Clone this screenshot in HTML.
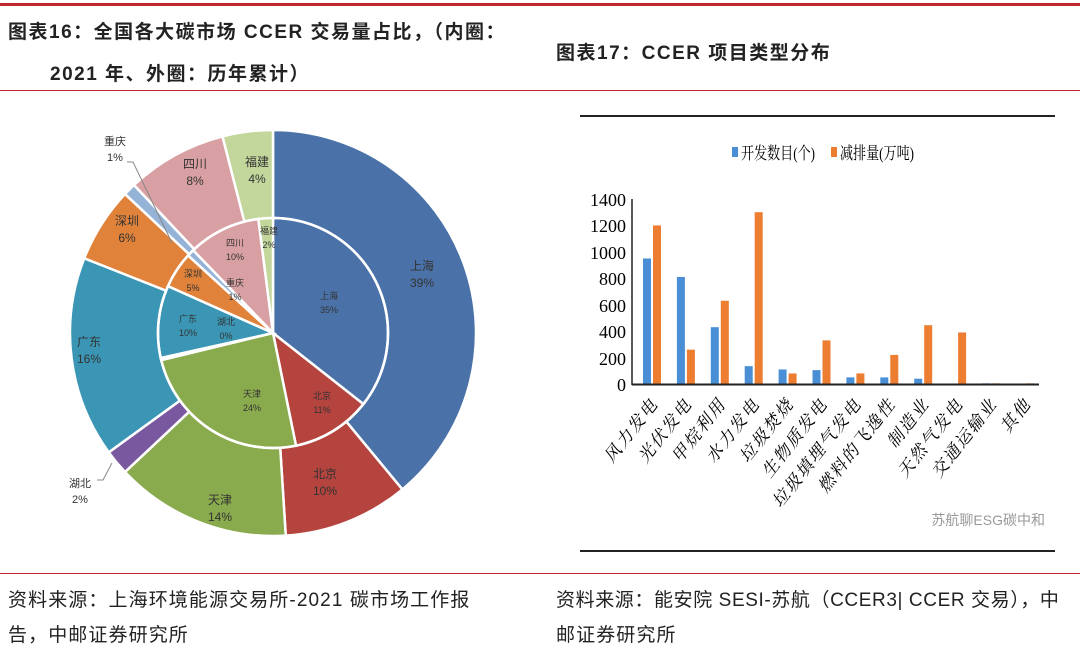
<!DOCTYPE html>
<html><head><meta charset="utf-8">
<style>
body{margin:0;width:1080px;height:657px;background:#fff;position:relative;overflow:hidden;font-family:"Liberation Sans","Noto Sans CJK SC",sans-serif;color:#222}
.t{position:absolute;font-size:19px;white-space:nowrap;font-family:"Liberation Sans","Noto Sans CJK SC",sans-serif;letter-spacing:1.1px}
.b{font-weight:bold;letter-spacing:1.5px}
</style></head><body>
<div style="position:absolute;left:0;top:3px;width:1080px;height:3px;background:#c0282d"></div>
<div style="position:absolute;left:0;top:90px;width:1080px;height:1px;background:#c0282d"></div>
<div style="position:absolute;left:0;top:573px;width:1080px;height:1px;background:#c0282d"></div>
<div class="t b" style="left:8px;top:17px">图表16：全国各大碳市场 CCER 交易量占比，（内圈：</div>
<div class="t b" style="left:50px;top:59px">2021 年、外圈：历年累计）</div>
<div class="t b" style="left:556px;top:38px">图表17：CCER 项目类型分布</div>
<div class="t" style="left:8px;top:585px">资料来源：上海环境能源交易所-2021 碳市场工作报</div>
<div class="t" style="left:8px;top:620px">告，中邮证券研究所</div>
<div class="t" style="left:556px;top:585px;letter-spacing:0.6px">资料来源：能安院 SESI-苏航（CCER3| CCER 交易），中</div>
<div class="t" style="left:556px;top:620px">邮证券研究所</div>
<svg id="pie" width="1080" height="657" style="position:absolute;left:0;top:0" font-family="Liberation Sans,Noto Sans CJK SC,sans-serif"></svg>
<svg width="1080" height="657" style="position:absolute;left:0;top:0" font-family="Liberation Serif,Noto Serif CJK SC,serif">
<line x1="580" y1="116" x2="1055" y2="116" stroke="#222" stroke-width="2"/>
<line x1="580" y1="551" x2="1055" y2="551" stroke="#222" stroke-width="2"/>
<rect x="732" y="147" width="6" height="10" fill="#4a8fd6"/>
<text x="741" y="159" font-size="17" textLength="74" lengthAdjust="spacingAndGlyphs">开发数目(个)</text>
<rect x="831" y="147" width="6" height="10" fill="#ed7d31"/>
<text x="840" y="159" font-size="17" textLength="74" lengthAdjust="spacingAndGlyphs">减排量(万吨)</text>
<g font-size="18" text-anchor="end">
<text x="626" y="206">1400</text><text x="626" y="232">1200</text><text x="626" y="259">1000</text>
<text x="626" y="285">800</text><text x="626" y="312">600</text><text x="626" y="338">400</text>
<text x="626" y="365">200</text><text x="626" y="391">0</text>
</g>
<g id="bars"></g>
<line x1="632" y1="199" x2="632" y2="385" stroke="#222" stroke-width="1.5"/>
<line x1="632" y1="384.5" x2="1039" y2="384.5" stroke="#222" stroke-width="2"/>
<text x="1045" y="525" font-size="14" fill="#999" text-anchor="end" font-family="Liberation Sans,Noto Sans CJK SC,sans-serif">苏航聊ESG碳中和</text>
</svg>
<script>
var ns="http://www.w3.org/2000/svg";
function el(p,t,a){var e=document.createElementNS(ns,t);for(var k in a)e.setAttribute(k,a[k]);p.appendChild(e);return e;}
var cats=["风力发电","光伏发电","甲烷利用","水力发电","垃圾焚烧","生物质发电","垃圾填埋气发电","燃料的飞逸性","制造业","天然气发电","交通运输业","其他"];
var bv=[950,810,430,135,110,105,50,50,40,0,5,0],ov=[1200,260,630,1300,80,330,80,220,445,390,5,5];
var g=document.getElementById("bars"),y0=384,k=185/1400;
for(var i=0;i<12;i++){var c=649+i*33.9;
 if(bv[i])el(g,"rect",{x:c-6,y:y0-bv[i]*k,width:8,height:bv[i]*k,fill:"#4a8fd6"});
 if(ov[i])el(g,"rect",{x:c+4,y:y0-ov[i]*k,width:8,height:ov[i]*k,fill:"#ed7d31"});
 var t=el(g,"text",{x:0,y:0,"font-size":17,"letter-spacing":2,"text-anchor":"end","font-style":"italic",transform:"translate("+(c+10)+",404) rotate(-52)"});t.textContent=cats[i];}
var P=document.getElementById("pie"),cx=273,cy=333;
function wedge(r,a0,a1,col){var s=a0*Math.PI/180,e=a1*Math.PI/180;
 var x0=cx+r*Math.sin(s),y0=cy-r*Math.cos(s),x1=cx+r*Math.sin(e),y1=cy-r*Math.cos(e);
 el(P,"path",{d:"M"+cx+","+cy+"L"+x0+","+y0+"A"+r+","+r+" 0 "+((a1-a0)>180?1:0)+" 1 "+x1+","+y1+"Z",fill:col,stroke:"#fff","stroke-width":2.5});}
var cols=["#4a72a8","#b5443f","#8aaa4e","#7a58a0","#3b96b5","#e0823a","#95b3d7","#d9a0a3","#c3d69b"];
var outer=[39,10,14,2,16,6,1,8,4],inner=[35,11,24,0.3,10,5,1,10,2];
var a=0;for(var i=0;i<9;i++){wedge(203,a,a+outer[i]*3.6,cols[i]);a+=outer[i]*3.6;}
var tot=inner.reduce(function(s,v){return s+v},0);a=0;
for(var i=0;i<9;i++){var d=inner[i]/tot*360;wedge(115,a,a+d,cols[i]);a+=d;}
el(P,"circle",{cx:cx,cy:cy,r:115,fill:"none",stroke:"#fff","stroke-width":2.5});
function lab(x,y,s,p,fs){var t=el(P,"text",{x:x,y:y,"font-size":fs,"text-anchor":"middle",fill:"#333"});t.textContent=s;
 var t2=el(P,"text",{x:x,y:y+fs+5,"font-size":fs,"text-anchor":"middle",fill:"#333"});t2.textContent=p;}
lab(422,270,"上海","39%",12);lab(325,478,"北京","10%",12);lab(220,504,"天津","14%",12);
lab(89,346,"广东","16%",12);lab(127,225,"深圳","6%",12);lab(195,168,"四川","8%",12);lab(257,166,"福建","4%",12);
lab(115,145,"重庆","1%",11);lab(80,487,"湖北","2%",11);
lab(329,299,"上海","35%",9);lab(322,399,"北京","11%",9);lab(252,397,"天津","24%",9);
lab(226,325,"湖北","0%",9);lab(188,322,"广东","10%",9);lab(193,277,"深圳","5%",9);
lab(235,246,"四川","10%",9);lab(235,286,"重庆","1%",9);lab(269,234,"福建","2%",9);
el(P,"polyline",{points:"127,162 133,162 172,243",fill:"none",stroke:"#888","stroke-width":1});
el(P,"polyline",{points:"97,480 103,480 112,463",fill:"none",stroke:"#888","stroke-width":1});
</script>
</body></html>
